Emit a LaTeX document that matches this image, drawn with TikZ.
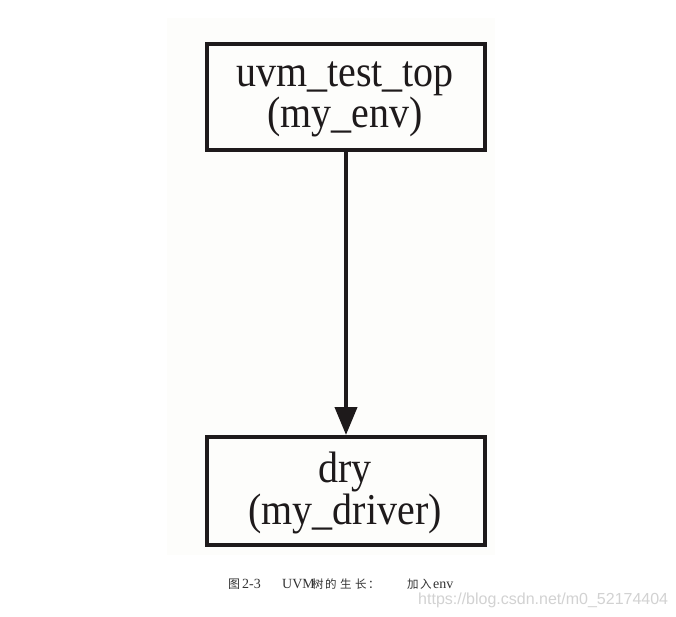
\documentclass[tikz,border=0pt]{standalone}
\usepackage{fontspec}
\setmainfont{Liberation Serif}
\newfontfamily\capcjk{Noto Sans CJK SC}
\newfontfamily\wmfont{Liberation Sans}
\usetikzlibrary{arrows.meta}
\definecolor{ink}{HTML}{1E1A1B}
\definecolor{panel}{HTML}{FDFDFB}
\definecolor{captxt}{HTML}{333333}
\definecolor{wmgray}{HTML}{D2D2D2}
\newcommand{\boxtxt}[1]{\scalebox{1}[1.1]{\fontsize{40}{44}\selectfont #1}}
\begin{document}
\begin{tikzpicture}[x=1pt,y=-1pt,
  treebox/.style={draw=ink,line width=4pt,minimum width=278pt,inner sep=0pt},
  boxlabel/.style={anchor=base,inner sep=0pt,text=ink},
  link/.style={draw=ink,line width=4pt,-{Triangle[length=28pt,width=22pt]}}]
\useasboundingbox (0,0) rectangle (676,617);
\fill[white] (0,0) rectangle (676,617);
\fill[panel] (167,18) rectangle (495,555);
\node[treebox,minimum height=106pt] (top) at (346,97.5) {};
\node[treebox,minimum height=107.5pt] (drv) at (346,490.75) {};
\node[boxlabel] (topA) at (345,87) {\boxtxt{uvm\_test\_top}};
\node[boxlabel] (topB) at (345,128) {\boxtxt{(my\_env)}};
\node[boxlabel] (drvA) at (345,482) {\boxtxt{dry}};
\node[boxlabel] (drvB) at (345,524) {\boxtxt{(my\_driver)}};
\draw[link] (top.south) -- (drv.north);
\node[anchor=base west,inner sep=0pt,text=captxt] (cap) at (228,588)
  {\makebox[14pt][l]{\capcjk\fontsize{12}{12}\selectfont 图}%
   \makebox[40pt][l]{\fontsize{14}{14}\selectfont 2-3}%
   \makebox[30pt][l]{\fontsize{14}{14}\selectfont UVM}%
   \makebox[13pt][l]{\capcjk\fontsize{11.5}{12}\selectfont 树}%
   \makebox[15pt][l]{\capcjk\fontsize{11.5}{12}\selectfont 的}%
   \makebox[15pt][l]{\capcjk\fontsize{11.5}{12}\selectfont 生}%
   \makebox[13pt][l]{\capcjk\fontsize{11.5}{12}\selectfont 长}%
   \makebox[39pt][l]{\capcjk\fontsize{11.5}{12}\selectfont ：}%
   \makebox[13pt][l]{\capcjk\fontsize{11.5}{12}\selectfont 加}%
   \makebox[13pt][l]{\capcjk\fontsize{11.5}{12}\selectfont 入}%
   {\fontsize{14}{14}\selectfont env}};
\node[anchor=base west,inner sep=0pt,text=wmgray,font=\wmfont\fontsize{16}{16}\selectfont] (wm) at (418,604) {https://blog.csdn.net/m0\_52174404};
\end{tikzpicture}
\end{document}
